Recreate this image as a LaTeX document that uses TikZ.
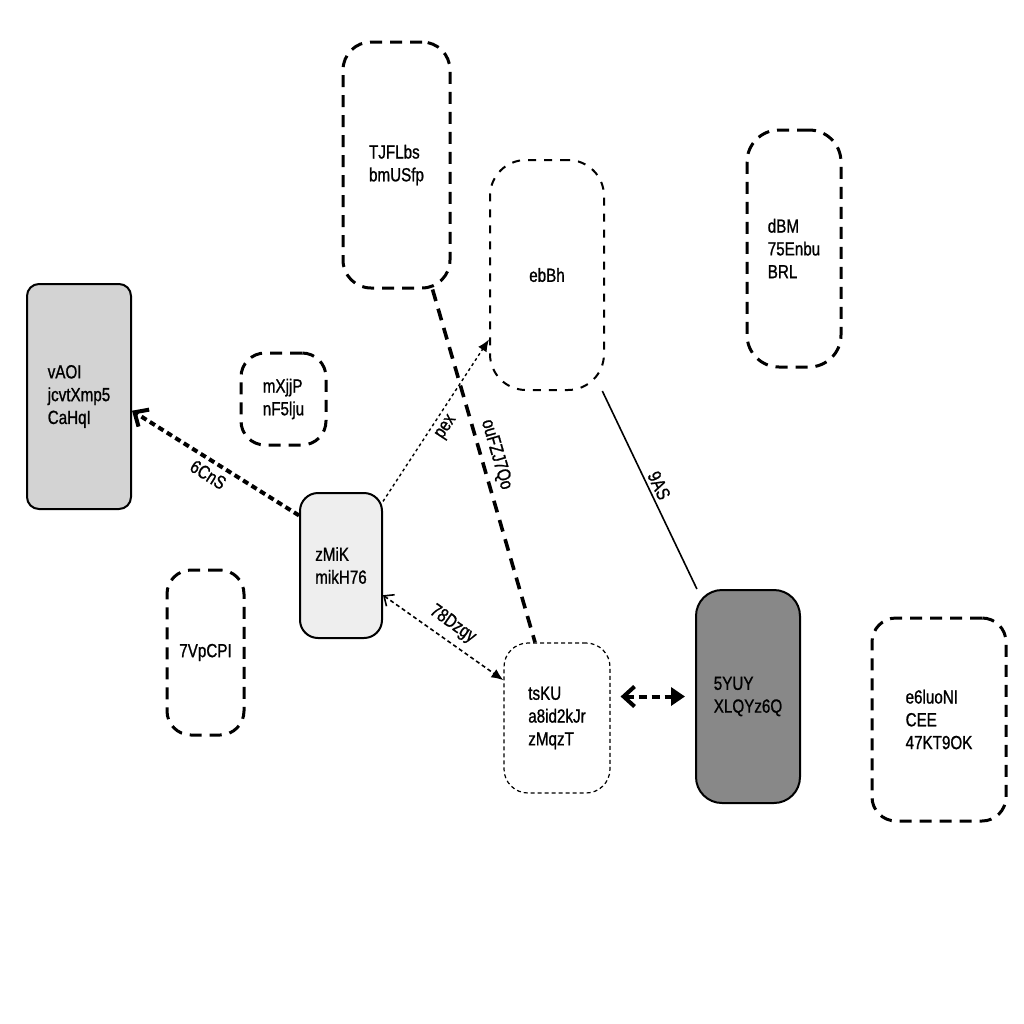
\documentclass[tikz,border=0pt]{standalone}
\usepackage{fontspec}
\setmainfont{Liberation Sans}[FakeStretch=0.8, FakeBold=1]
\usetikzlibrary{arrows.meta}
\definecolor{fillA}{HTML}{D3D3D3}
\definecolor{fillB}{HTML}{EEEEEE}
\definecolor{fillC}{HTML}{888888}
\begin{document}
\begin{tikzpicture}[x=0.5pt,y=-0.5pt,
  every node/.style={font=\fontsize{9.5}{11.4}\selectfont},
  box/.style={rectangle, align=left, inner sep=0pt, draw=black},
  solidbox/.style={box, line width=1pt},
  bigdash/.style={box, line width=1.5pt, dash pattern=on 6pt off 4pt},
  middash/.style={box, line width=1pt, dash pattern=on 4pt off 4pt},
  finedash/.style={box, line width=0.6pt, dash pattern=on 2pt off 1.5pt},
  lbl/.style={sloped, inner sep=2.5pt},
  openhead/.tip={Straight Barb[length=5.5pt,width=10pt]},
  smallopen/.tip={Straight Barb[length=4pt,width=7pt]},
]
\fill[white] (0,0) rectangle (1024,1024);
\useasboundingbox (0,0) rectangle (1024,1024);

\node[solidbox, fill=fillA, rounded corners=6pt, minimum width=52pt, minimum height=112.5pt] (vAOI) at (79,396.5) {vAOI\\jcvtXmp5\\CaHqI};
\node[bigdash, rounded corners=12pt, minimum width=42.5pt, minimum height=46pt] (mXjjP) at (283.5,399) {mXjjP\\nF5lju};
\node[solidbox, fill=fillB, rounded corners=9pt, minimum width=41pt, minimum height=72.5pt] (zMiK) at (341,565.5) {zMiK\\mikH76};
\node[bigdash, rounded corners=12pt, minimum width=38.5pt, minimum height=82.5pt] (VpCPI) at (205.5,652.5) {7VpCPI};
\node[bigdash, rounded corners=14pt, minimum width=53.5pt, minimum height=123pt] (TJFLbs) at (396.5,165) {TJFLbs\\bmUSfp};
\node[middash, rounded corners=18pt, minimum width=57pt, minimum height=115pt] (ebBh) at (547,275) {ebBh};
\node[bigdash, rounded corners=16pt, minimum width=47pt, minimum height=118.5pt] (dBM) at (794,248.5) {dBM\\75Enbu\\BRL};
\node[finedash, rounded corners=12pt, minimum width=53pt, minimum height=75pt] (tsKU) at (557,718) {tsKU\\a8id2kJr\\zMqzT};
\node[solidbox, fill=fillC, rounded corners=13pt, minimum width=52pt, minimum height=106.5pt] (YUY) at (748,696.5) {5YUY\\XLQYz6Q};
\node[bigdash, rounded corners=12pt, minimum width=67pt, minimum height=101.5pt] (e6luoNI) at (939,719.5) {e6luoNI\\CEE\\47KT9OK};

\draw[line width=2pt, dash pattern=on 3pt off 2pt, -{openhead}] (zMiK.130) -- node[lbl, below] {6CnS} (vAOI.345);
\draw[line width=0.7pt, dash pattern=on 1.5pt off 1.5pt, -{Latex[length=6pt,width=5pt]}] (zMiK) -- node[lbl, below, pos=0.5] {pex} (ebBh.228);
\draw[line width=1.8pt, dash pattern=on 6pt off 4pt] (TJFLbs) -- node[lbl, above, pos=0.48] {ouFZJ7Qo} (tsKU);
\draw[line width=0.8pt, dash pattern=on 2pt off 1.5pt, {smallopen}-{Latex[length=6pt,width=5pt]}] (zMiK) -- node[lbl, above, inner sep=3.5pt] {78Dzgy} (tsKU);
\draw[line width=0.8pt] (ebBh) -- node[lbl, above, inner sep=1.5pt] {9AS} (YUY);
\draw[line width=2pt, dash pattern=on 4pt off 2.5pt, shorten <=5pt, shorten >=5pt, {openhead}-{Triangle[length=7pt,width=9pt]}] (tsKU.east |- YUY.west) -- (YUY.west);
\end{tikzpicture}
\end{document}
